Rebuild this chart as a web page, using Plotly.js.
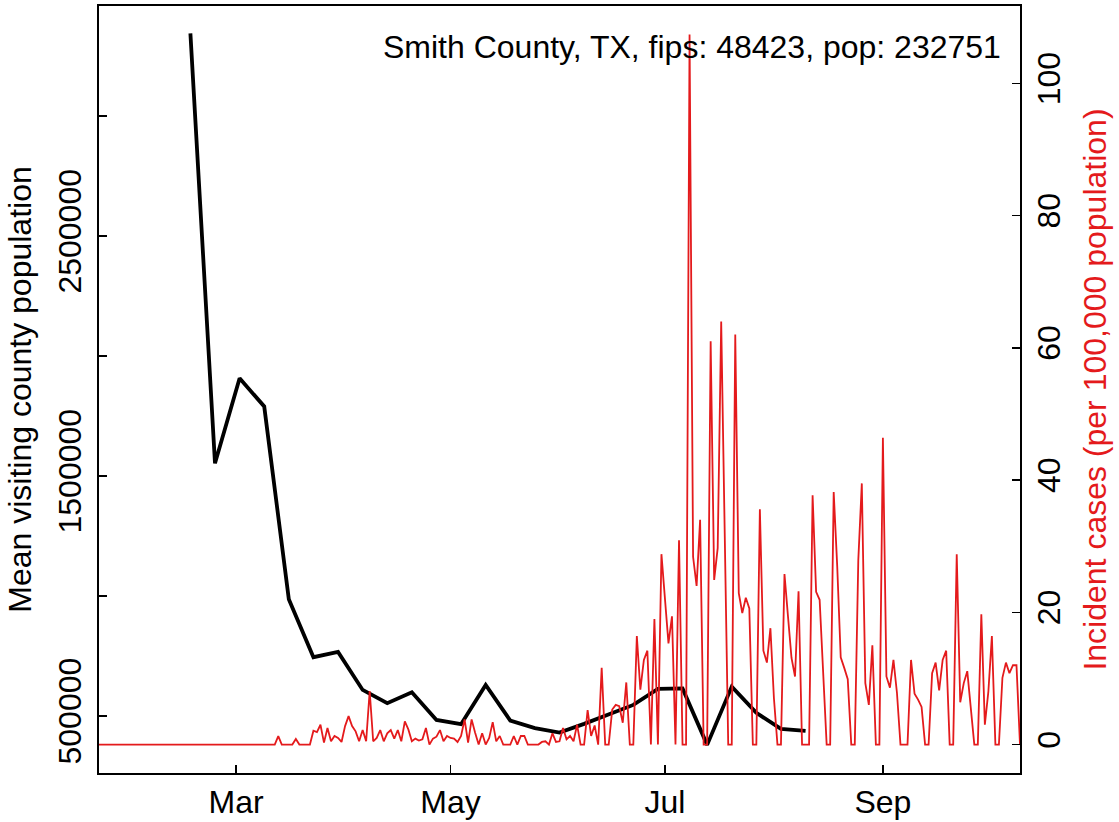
<!DOCTYPE html>
<html><head><meta charset="utf-8">
<script src="https://cdn.plot.ly/plotly-3.0.1.min.js"></script>
<style>html,body{margin:0;padding:0;background:#fff}#chart{width:1119px;height:822px}</style>
</head><body><div id="chart"></div>
<script>
// Daily incident cases per 100,000 population, starting 2020-01-22
const caseStartDate = [2020, 0, 22];
const incidentCases = [
  0,0,0,0,0,0,0,0,0,0, 0,0,0,0,0,0,0,0,0,0, 0,0,0,0,0,0,0,0,0,0,
  0,0,0,0,0,0,0,0,0,0, 0,0,0,0,0,0,0,0,0,0, 0,
  1.29, 0,0,0,0, 0.86, 0,0,0,0,
  2.1, 1.9, 3.0, 0.3, 2.5, 0.5, 1.3, 1.0, 0.4, 2.8,
  4.3, 2.8, 2.0, 0.5, 2.2, 0.5, 8.1, 0.5, 1.0, 2.2,
  0.5, 1.7, 2.2, 0.9, 2.2, 0.5, 3.5, 2.3, 0.5, 0.9,
  0.6, 0.8, 2.5, 0, 0.9, 1.2, 2.2, 0.5, 1.3, 1.0,
  0.9, 0.4, 1.3, 3.8, 0.3, 3.8, 1.8, 0, 1.7, 0,
  1.0, 3.4, 0.5, 1.3, 0, 0, 0, 1.3, 0, 1.3,
  1.3, 0, 0, 0, 0, 0.4, 0.5, 0, 1.7, 0.4,
  0.5, 2.5, 0.8, 1.3, 0.5, 3.0, 0, 0, 5.2, 1.3,
  2.9, 0, 11.6, 0, 0, 5.3, 6.0, 5.8, 3.3, 9.4,
  0, 0, 16.4, 8.3, 12.8, 14.2, 0, 19.0, 0, 28.8,
  22.0, 15.3, 19.4, 0, 30.9, 0, 0, 107.4, 28.4, 24.0,
  34.0, 0, 0, 61.0, 24.9, 29.7, 64.0, 30.0, 0, 0,
  62.0, 22.9, 19.9, 22.2, 20.6, 0, 0, 35.6, 14.2, 12.4,
  17.6, 7.0, 0, 0, 25.8, 19.4, 13.1, 10.3, 23.2, 0,
  0, 0, 37.7, 23.1, 21.9, 10.0, 0, 0, 38.2, 27.0,
  13.2, 11.6, 9.9, 0, 0, 27.9, 39.5, 9.3, 6.0, 15.0,
  0, 0, 46.4, 10.3, 8.6, 12.8, 7.8, 0, 0, 0,
  12.8, 7.7, 6.8, 5.7, 0, 0, 10.8, 12.4, 8.2, 12.8,
  14.2, 0, 0, 28.8, 6.4, 9.3, 11.1, 5.0, 0, 0,
  19.7, 3.0, 8.0, 16.4, 0, 0, 10.1, 12.4, 10.8, 12.0,
  12.0, 0
];

// Weekly mean visiting county population
const visitWeeks = ['2020-02-17','2020-02-24','2020-03-02','2020-03-09','2020-03-16','2020-03-23',
  '2020-03-30','2020-04-06','2020-04-13','2020-04-20','2020-04-27','2020-05-04','2020-05-11',
  '2020-05-18','2020-05-25','2020-06-01','2020-06-08','2020-06-15','2020-06-22','2020-06-29',
  '2020-07-06','2020-07-13','2020-07-20','2020-07-27','2020-08-03','2020-08-10'];
const visitingPop = [3344600, 1552900, 1907100, 1790000, 986300, 744600,
  766700, 608300, 552900, 598800, 483300, 465400, 629200,
  480400, 448800, 430400, 466700, 508300, 545800, 612500,
  614600, 379200, 622100, 512500, 445800, 437500];

const xRange = ['2020-01-22', '2020-10-10'];
const xTickDates = ['2020-03-01','2020-05-01','2020-07-01','2020-09-01'];
const xTickLabels = ['Mar','May','Jul','Sep'];
const leftTickVals = [500000,1000000,1500000,2000000,2500000,3000000];
const leftTickText = ['500000','','1500000','','2500000',''];
const rightTickVals = [0,20,40,60,80,100];
const rightTickText = ['0','20','40','60','80','100'];
const countyLabel = 'Smith County, TX, fips: 48423, pop: 232751';
const leftTitle = 'Mean visiting county population';
const rightTitle = 'Incident cases (per 100,000 population)';

const caseDates = incidentCases.map((_, i) =>
  new Date(Date.UTC(caseStartDate[0], caseStartDate[1], caseStartDate[2] + i)).toISOString().slice(0, 10));

const RED = '#E41A1C';
const FONT = 'Liberation Sans, Arial, Helvetica, sans-serif';
const FS = 32;

const traces = [
  { x: visitWeeks, y: visitingPop, type: 'scatter', mode: 'lines', yaxis: 'y',
    line: { color: 'black', width: 3.8 }, hoverinfo: 'skip' },
  { x: caseDates, y: incidentCases, type: 'scatter', mode: 'lines', yaxis: 'y2',
    line: { color: RED, width: 1.8 }, hoverinfo: 'skip' }
];

const axisCommon = {
  ticks: 'inside', ticklen: 8, tickwidth: 1.5, tickcolor: 'black',
  showline: true, linecolor: 'black', linewidth: 2,
  showgrid: false, zeroline: false, tickfont: { family: FONT, size: FS, color: 'black' }
};

const layout = {
  width: 1119, height: 822,
  margin: { l: 99, r: 99, t: 6, b: 49, pad: 0 },
  paper_bgcolor: 'white', plot_bgcolor: 'white',
  font: { family: FONT, size: FS, color: 'black' },
  showlegend: false,
  xaxis: Object.assign({}, axisCommon, {
    type: 'date', range: xRange, tickmode: 'array', tickvals: xTickDates, ticktext: xTickLabels,
    mirror: true, ticklabelstandoff: 0
  }),
  yaxis: Object.assign({}, axisCommon, {
    range: [262000, 3459000], tickmode: 'array', tickvals: leftTickVals, ticktext: leftTickText,
    tickangle: -90, mirror: true, ticklabelstandoff: 3,
    title: { text: leftTitle, font: { family: FONT, size: FS, color: 'black' }, standoff: 11 }
  }),
  yaxis2: Object.assign({}, axisCommon, {
    overlaying: 'y', side: 'right', range: [-4.296, 111.696],
    tickmode: 'array', tickvals: rightTickVals, ticktext: rightTickText,
    tickangle: -90, ticklabelstandoff: 0,
    title: { text: rightTitle, font: { family: FONT, size: FS, color: RED }, standoff: 17 }
  }),
  annotations: [{
    text: countyLabel, xref: 'paper', yref: 'paper', x: 0.9815, y: 0.9466,
    xanchor: 'right', yanchor: 'middle', showarrow: false,
    font: { family: FONT, size: FS, color: 'black' }
  }]
};

Plotly.newPlot('chart', traces, layout, { staticPlot: true, displayModeBar: false });
</script>
</body></html>
